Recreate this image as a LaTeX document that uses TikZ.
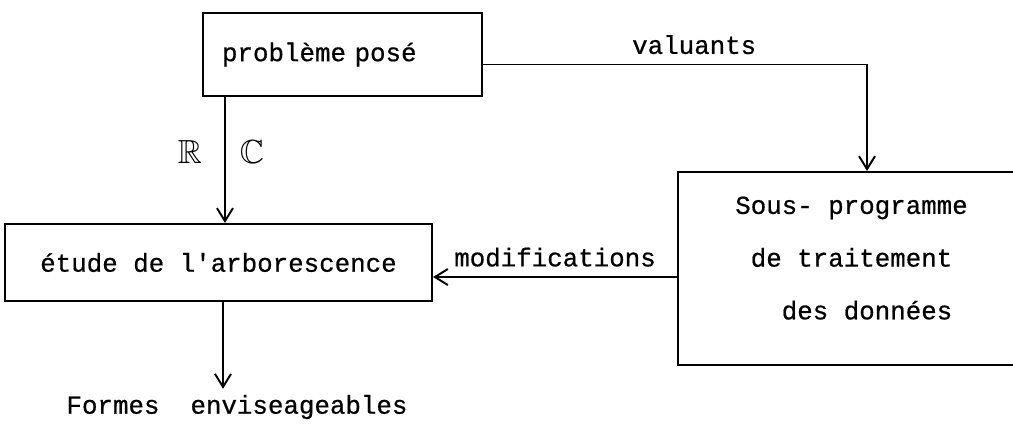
\documentclass[tikz,border=0pt]{standalone}
\usepackage{fontspec}
\usepackage{amssymb}
\setmainfont{Liberation Mono}[Ligatures=TeXOff, FakeBold=0.6]
\usetikzlibrary{arrows.meta, positioning}

\begin{document}
\begin{tikzpicture}[
    x=0.02cm, y=-0.02cm,
    font=\fontsize{14.7}{30}\selectfont,
    box/.style={rectangle, draw=black, line width=1.2pt, inner sep=0pt},
    arrow/.style={-{Straight Barb[length=2.6mm, width=3.2mm]}, line width=1.1pt},
    setname/.style={inner sep=0pt, font=\fontsize{19}{20}\selectfont}
]
\useasboundingbox (0,0) rectangle (1013,424);
\clip (0,0) rectangle (1013,424);

% Problem
\node[box, minimum width=5.58cm, minimum height=1.66cm, text width=4.82cm, align=left, inner xsep=0.38cm] (pb) at (342.5,54.5) {\mbox{problème posé}};

% Tree study
\node[box, minimum width=8.54cm, minimum height=1.54cm] (etude) at (218.5,262.5) {étude de l'arborescence};

% Data subroutine (right side runs off the page)
\node[box, minimum width=6.94cm, minimum height=3.86cm, align=center] (sous) at (851.5,268.5) {Sous- programme\\de traitement\\\hspace*{1.2em}des données\\[-18pt]\mbox{}};

% Outcome
\node (formes) at (237,407) {Formes\ \ enviseageables};

% Connections
\draw[arrow] ([yshift=-0.2cm]pb.east) -| ([xshift=0.31cm]sous.north) node[pos=0.275, above=2pt] {valuants};
\draw[arrow] ([xshift=0.46cm]pb.south west) -- ([xshift=0.46cm]pb.south west |- etude.north)
    node[setname, pos=0.44, left=0.44cm] {$\mathbb{R}$}
    node[setname, pos=0.44, right=0.28cm] {$\mathbb{C}$};
\draw[arrow] ([yshift=-0.17cm]sous.west) -- ([yshift=-0.17cm]sous.west -| etude.east) node[midway, above=2pt] {modifications};
\draw[arrow] ([xshift=0.09cm]etude.south) -- ([xshift=0.09cm]etude.south |- formes.north);

\end{tikzpicture}
\end{document}
